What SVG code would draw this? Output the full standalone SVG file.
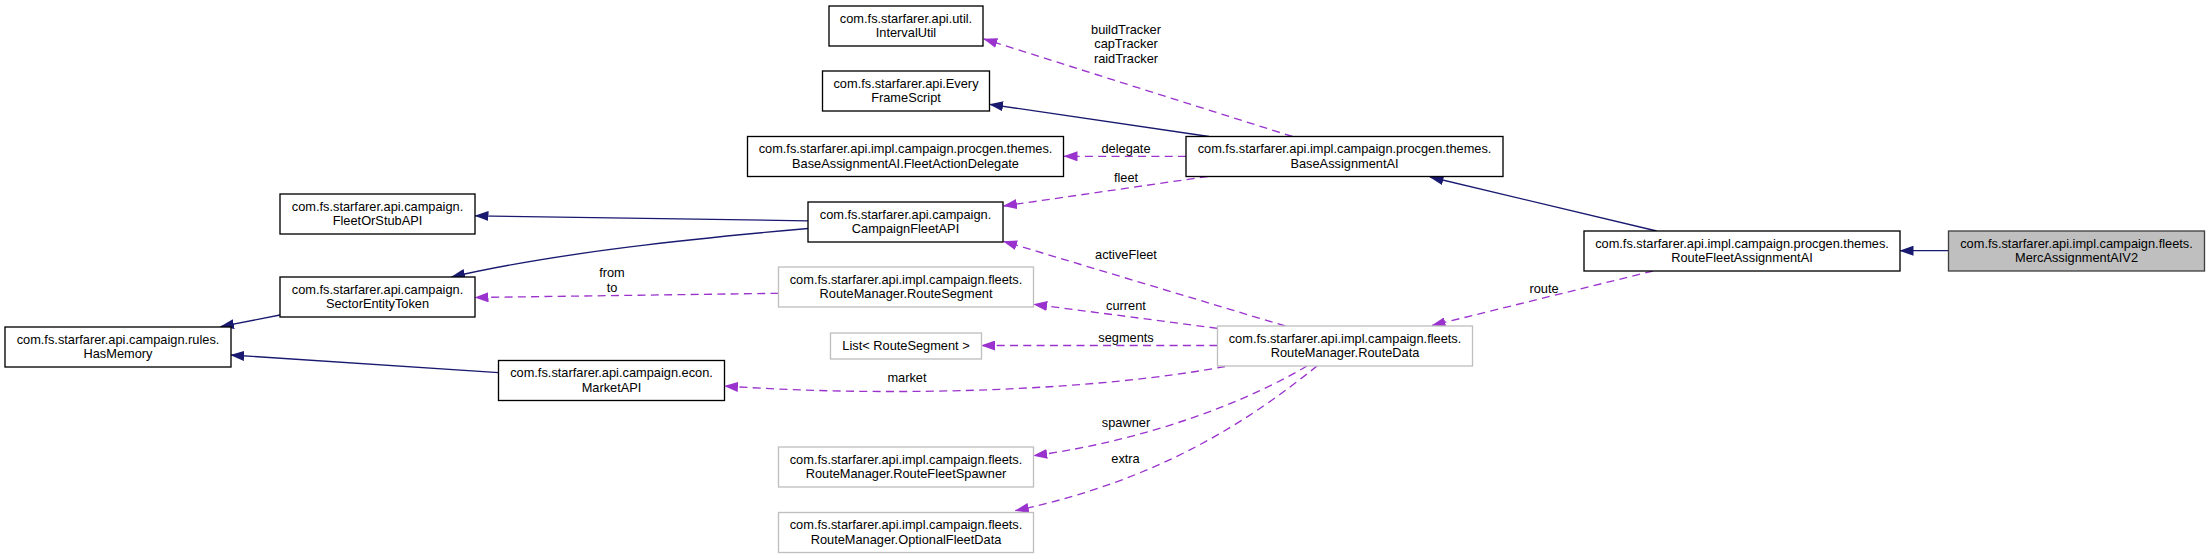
<svg xmlns="http://www.w3.org/2000/svg" width="2209" height="559" viewBox="0 0 2209 559">
<defs>
<marker id="ah" markerUnits="userSpaceOnUse" markerWidth="14" markerHeight="10" viewBox="0 0 14 10" refX="13.5" refY="5" orient="auto"><path d="M0,0 L14,5 L0,10 z" fill="#191970"/></marker>
<marker id="ap" markerUnits="userSpaceOnUse" markerWidth="14" markerHeight="10" viewBox="0 0 14 10" refX="13.5" refY="5" orient="auto"><path d="M0,0 L14,5 L0,10 z" fill="#9a32cd"/></marker>
</defs>
<style>
.n rect{fill:#ffffff;stroke:#000000;stroke-width:1.33}
.g rect{stroke:#bfbfbf}
.cur rect{fill:#bfbfbf;stroke:#404040}
text{font-family:"Liberation Sans",Arial,Helvetica,sans-serif;font-size:12.8px;text-anchor:middle;fill:#000000}
.inh{fill:none;stroke:#191970;stroke-width:1.33;marker-end:url(#ah)}
.use{fill:none;stroke:#9a32cd;stroke-width:1.33;stroke-dasharray:8,5.3;marker-end:url(#ap)}
</style>
<rect x="0" y="0" width="2209" height="559" fill="#ffffff"/>

<g id="connectors">
<path class="inh" d="M1948.5,250.7 L1900,250.7"/>
<path class="inh" d="M1656.7,231 L1430,177"/>
<path class="inh" d="M1209,136.5 L989.6,104.3"/>
<path class="inh" d="M808,220.8 L475,215.8"/>
<path class="inh" d="M808,228.5 C700,238 560,252 451.5,277"/>
<path class="inh" d="M280,315 L220.5,326.7"/>
<path class="inh" d="M498.5,372.7 L230.7,355"/>

<path class="use" d="M1292.5,136.5 L983.8,39"/>
<path class="use" d="M1186,156.3 L1064,156.3"/>
<path class="use" d="M1207.7,176.5 L1003.5,206"/>
<path class="use" d="M1285.3,326 L1003.5,241.3"/>
<path class="use" d="M1217.5,328.3 L1033.7,304.3"/>
<path class="use" d="M1217.5,345.5 L981.5,345.5"/>
<path class="use" d="M778.5,293.3 L475,297.5"/>
<path class="use" d="M1225,366.5 C1100,390 900,398 724.5,386"/>
<path class="use" d="M1307,366 C1250,400 1150,440 1033.7,455.7"/>
<path class="use" d="M1317,366 C1250,420 1160,480 1015.3,510.7"/>
<path class="use" d="M1653,271 L1432,325.5"/>

<text x="1126" y="33.6">buildTracker</text>
<text x="1126" y="48.3">capTracker</text>
<text x="1126" y="62.8">raidTracker</text>
<text x="1126" y="152.6">delegate</text>
<text x="1126" y="181.6">fleet</text>
<text x="1126" y="258.8">activeFleet</text>
<text x="1126" y="310.3">current</text>
<text x="1126" y="341.5">segments</text>
<text x="612" y="277">from</text>
<text x="612" y="291.5">to</text>
<text x="907" y="382">market</text>
<text x="1126" y="426.5">spawner</text>
<text x="1125.5" y="463.3">extra</text>
<text x="1544" y="292.8">route</text>
</g>

<g id="MercAssignmentAIV2" class="n cur">
<rect x="1948.5" y="231" width="256" height="40"/>
<text x="2076.5" y="247.5">com.fs.starfarer.api.impl.campaign.fleets.</text>
<text x="2076.5" y="262.2">MercAssignmentAIV2</text>
</g>
<g id="RouteFleetAssignmentAI" class="n">
<rect x="1584" y="231" width="316" height="40"/>
<text x="1742" y="247.5">com.fs.starfarer.api.impl.campaign.procgen.themes.</text>
<text x="1742" y="262.2">RouteFleetAssignmentAI</text>
</g>
<g id="BaseAssignmentAI" class="n">
<rect x="1186" y="136.5" width="317" height="40"/>
<text x="1344.5" y="153">com.fs.starfarer.api.impl.campaign.procgen.themes.</text>
<text x="1344.5" y="167.7">BaseAssignmentAI</text>
</g>
<g id="IntervalUtil" class="n">
<rect x="829" y="6" width="154" height="40"/>
<text x="906" y="22.5">com.fs.starfarer.api.util.</text>
<text x="906" y="37.2">IntervalUtil</text>
</g>
<g id="EveryFrameScript" class="n">
<rect x="822.5" y="71" width="167" height="40"/>
<text x="906" y="87.5">com.fs.starfarer.api.Every</text>
<text x="906" y="102.2">FrameScript</text>
</g>
<g id="FleetActionDelegate" class="n">
<rect x="747.5" y="136.5" width="316" height="40"/>
<text x="905.5" y="153">com.fs.starfarer.api.impl.campaign.procgen.themes.</text>
<text x="905.5" y="167.7">BaseAssignmentAI.FleetActionDelegate</text>
</g>
<g id="CampaignFleetAPI" class="n">
<rect x="808" y="202" width="195" height="40"/>
<text x="905.5" y="218.5">com.fs.starfarer.api.campaign.</text>
<text x="905.5" y="233.2">CampaignFleetAPI</text>
</g>
<g id="FleetOrStubAPI" class="n">
<rect x="280" y="194" width="195" height="40"/>
<text x="377.5" y="210.5">com.fs.starfarer.api.campaign.</text>
<text x="377.5" y="225.2">FleetOrStubAPI</text>
</g>
<g id="SectorEntityToken" class="n">
<rect x="280" y="277" width="195" height="40"/>
<text x="377.5" y="293.5">com.fs.starfarer.api.campaign.</text>
<text x="377.5" y="308.2">SectorEntityToken</text>
</g>
<g id="HasMemory" class="n">
<rect x="5" y="327" width="226" height="40"/>
<text x="118" y="343.5">com.fs.starfarer.api.campaign.rules.</text>
<text x="118" y="358.2">HasMemory</text>
</g>
<g id="MarketAPI" class="n">
<rect x="498.5" y="360.5" width="226" height="40"/>
<text x="611.5" y="377">com.fs.starfarer.api.campaign.econ.</text>
<text x="611.5" y="391.7">MarketAPI</text>
</g>
<g id="RouteSegment" class="n g">
<rect x="778.5" y="267" width="255" height="40"/>
<text x="906" y="283.5">com.fs.starfarer.api.impl.campaign.fleets.</text>
<text x="906" y="298.2">RouteManager.RouteSegment</text>
</g>
<g id="ListRouteSegment" class="n g">
<rect x="830.5" y="333" width="151" height="26"/>
<text x="906" y="349.5">List&lt; RouteSegment &gt;</text>
</g>
<g id="RouteData" class="n g">
<rect x="1217.5" y="326" width="255" height="40"/>
<text x="1345" y="342.5">com.fs.starfarer.api.impl.campaign.fleets.</text>
<text x="1345" y="357.2">RouteManager.RouteData</text>
</g>
<g id="RouteFleetSpawner" class="n g">
<rect x="778.5" y="447" width="255" height="40"/>
<text x="906" y="463.5">com.fs.starfarer.api.impl.campaign.fleets.</text>
<text x="906" y="478.2">RouteManager.RouteFleetSpawner</text>
</g>
<g id="OptionalFleetData" class="n g">
<rect x="778.5" y="512.5" width="255" height="40"/>
<text x="906" y="529">com.fs.starfarer.api.impl.campaign.fleets.</text>
<text x="906" y="543.7">RouteManager.OptionalFleetData</text>
</g>
</svg>
